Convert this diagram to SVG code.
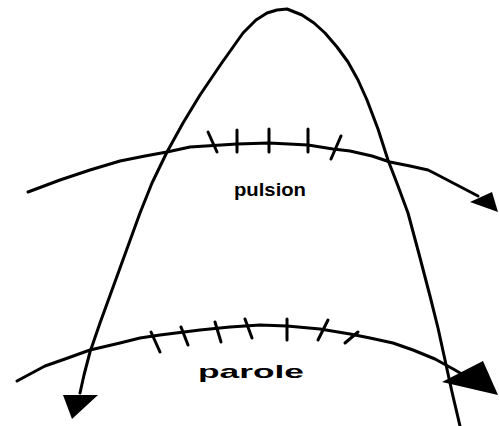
<svg xmlns="http://www.w3.org/2000/svg" width="499" height="426" viewBox="0 0 499 426">
<style>
.ln{fill:none;stroke:#000;stroke-width:3;stroke-linejoin:round;stroke-linecap:round}
.tk{fill:none;stroke:#000;stroke-width:3;stroke-linecap:round}
.ah{fill:#000;stroke:none}
.lbl{font-family:"Liberation Sans",Arial,sans-serif;font-weight:bold;fill:#000}
</style>
<rect width="499" height="426" fill="#fff"/>
<g id="connectors">
<polyline id="parabola" class="ln" points="80,393 84,375 90,352 100,323 120,268 140,213 152,183 167,152 183,123 200,95 221,64 243,33 256,20 267,13 277,10 287,9 302,15 314,23 325,33 337,47 348,62 358,80 367,100 378,129 388,160 398,186 408,213 419,254 430,296 438,328 445,360 452,392 460,426"/>
<polygon class="ah" points="63,395 98,395 72,419"/>
<polyline id="pulsion-curve" class="ln" points="28,192 60,180 90,170 120,161 145,156 167,152 190,147 237,144 269,143 308,145 333,149 350,151 372,156 390,162 410,166 428,170 434,173 478,196"/>
<polygon class="ah" points="470,202 492,192 498,212"/>
<polyline id="parole-curve" class="ln" points="17,381 45,366 65,359 90,350 120,343 140,338 160,335 200,330 230,327 260,325 287,326 320,329 350,334 370,338 393,343 413,350 435,359 455,370 465,376"/>
<polygon class="ah" points="442,382 483,361 498,395"/>
</g>
<g id="ticks-pulsion">
<line class="tk" x1="208" y1="132" x2="217" y2="152"/>
<line class="tk" x1="237" y1="130" x2="237" y2="152"/>
<line class="tk" x1="269" y1="129" x2="269" y2="152"/>
<line class="tk" x1="308" y1="129" x2="308" y2="152"/>
<line class="tk" x1="341" y1="136" x2="331" y2="159"/>
</g>
<g id="ticks-parole">
<line class="tk" x1="151" y1="332" x2="160" y2="352"/>
<line class="tk" x1="181" y1="327" x2="188" y2="345"/>
<line class="tk" x1="215" y1="322" x2="221" y2="342"/>
<line class="tk" x1="245" y1="319" x2="252" y2="338"/>
<line class="tk" x1="287" y1="319" x2="287" y2="340"/>
<line class="tk" x1="328" y1="320" x2="318" y2="340"/>
<line class="tk" x1="358" y1="332" x2="345" y2="343"/>
</g>
<g id="label-pulsion">
<text class="lbl" x="234" y="196" font-size="18.5" textLength="72" lengthAdjust="spacingAndGlyphs">pulsion</text>
</g>
<g id="label-parole">
<text class="lbl" x="198" y="378" font-size="19" textLength="106" lengthAdjust="spacingAndGlyphs">parole</text>
</g>
</svg>
